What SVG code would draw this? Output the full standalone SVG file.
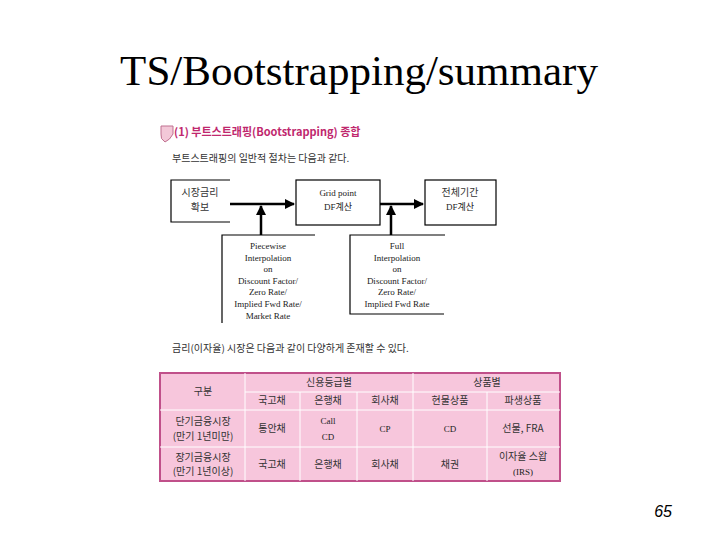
<svg xmlns="http://www.w3.org/2000/svg" width="720" height="540" viewBox="0 0 720 540">
<style>
.k{font-family:"Noto Sans CJK KR","Liberation Serif",serif;font-size:10px;fill:#333;text-anchor:middle}
.s{font-family:"Liberation Serif","Noto Sans CJK KR",serif;font-size:9px;fill:#222;text-anchor:middle}
.b{fill:#fff;stroke:#000;stroke-width:1.2}
.l{stroke:#000;stroke-width:1.2;fill:none}
.a{stroke:#000;stroke-width:2.5;fill:none}
.c{stroke:#fff;stroke-width:1}
</style>
<defs><marker id="m" viewBox="0 0 10 10" refX="9" refY="5" markerWidth="4" markerHeight="4" orient="auto"><path d="M0,0L10,5L0,10z"/></marker></defs>
<rect width="720" height="540" fill="#fff"/>
<text x="359" y="85" font-family="Liberation Serif,serif" font-size="43" text-anchor="middle">TS/Bootstrapping/summary</text>
<path d="M161,126h12v8q-3,6-8,8q-5-3-4-8z" fill="#f3c8d8" stroke="#c07090" stroke-width="1"/>
<text x="174" y="136" font-family="Noto Sans CJK KR,sans-serif" font-size="11" font-weight="bold" fill="#c0286e">(1) 부트스트래핑(Bootstrapping)  종합</text>
<text x="172" y="162" class="k" style="text-anchor:start">부트스트래핑의 일반적 절차는 다음과 같다.</text>
<g id="n1"><path class="l" d="M230,180H171V222H230"/><text x="200" y="196" class="k">시장금리</text><text x="200" y="211" class="k">확보</text></g>
<g id="n2"><rect class="b" x="296" y="180" width="84" height="45"/><text x="338" y="196" class="s">Grid point</text><text x="338" y="210" class="s">DF계산</text></g>
<g id="n3"><rect class="b" x="425" y="180" width="71" height="45"/><text x="460" y="196" class="k">전체기간</text><text x="460" y="210" class="s">DF계산</text></g>
<g id="n4"><path class="l" d="M315,235H222V323"/><text x="268" y="249" class="s">Piecewise</text><text x="268" y="261" class="s">Interpolation</text><text x="268" y="272" class="s">on</text><text x="268" y="284" class="s">Discount Factor/</text><text x="268" y="295" class="s">Zero Rate/</text><text x="268" y="307" class="s">Implied Fwd Rate/</text><text x="268" y="319" class="s">Market Rate</text></g>
<g id="n5"><path class="l" d="M445,235H350V314H444"/><text x="397" y="249" class="s">Full</text><text x="397" y="261" class="s">Interpolation</text><text x="397" y="272" class="s">on</text><text x="397" y="284" class="s">Discount Factor/</text><text x="397" y="295" class="s">Zero Rate/</text><text x="397" y="307" class="s">Implied Fwd Rate</text></g>
<g id="connectors">
<line class="a" x1="230" y1="204" x2="294" y2="204" marker-end="url(#m)"/>
<line class="a" x1="380" y1="204" x2="423" y2="204" marker-end="url(#m)"/>
<line class="a" x1="261" y1="235" x2="261" y2="206" marker-end="url(#m)"/>
<line class="a" x1="391" y1="235" x2="391" y2="206" marker-end="url(#m)"/>
</g>
<text x="172" y="352" class="k" style="text-anchor:start">금리(이자율) 시장은 다음과 같이 다양하게 존재할 수 있다.</text>
<g id="table">
<rect x="160" y="373" width="400" height="108" fill="#f7c6dc" stroke="#c0508a" stroke-width="2"/>
<g class="c"><line x1="245" y1="373" x2="245" y2="481"/><line x1="245" y1="392" x2="560" y2="392"/><line x1="160" y1="410" x2="560" y2="410"/><line x1="160" y1="447" x2="560" y2="447"/><line x1="300" y1="392" x2="300" y2="481"/><line x1="357" y1="392" x2="357" y2="481"/><line x1="413" y1="373" x2="413" y2="481"/><line x1="487" y1="392" x2="487" y2="481"/></g>
<text x="203" y="395" class="k">구분</text>
<text x="329" y="386" class="k">신용등급별</text><text x="487" y="386" class="k">상품별</text>
<text x="272" y="404" class="k">국고채</text><text x="328" y="404" class="k">은행채</text><text x="385" y="404" class="k">회사채</text><text x="450" y="404" class="k">현물상품</text><text x="523" y="404" class="k">파생상품</text>
<text x="203" y="425" class="k">단기금융시장</text><text x="203" y="440" class="k">(만기 1년미만)</text>
<text x="272" y="432" class="k">통안채</text><text x="328" y="424" class="s">Call</text><text x="328" y="440" class="s">CD</text><text x="385" y="432" class="s">CP</text><text x="450" y="432" class="s">CD</text><text x="523" y="432" class="k">선물, FRA</text>
<text x="203" y="461" class="k">장기금융시장</text><text x="203" y="475" class="k">(만기 1년이상)</text>
<text x="272" y="468" class="k">국고채</text><text x="328" y="468" class="k">은행채</text><text x="385" y="468" class="k">회사채</text><text x="450" y="468" class="k">채권</text><text x="523" y="460" class="k">이자율 스왑</text><text x="523" y="475" class="s">(IRS)</text>
</g>
<text x="672" y="517" font-family="Liberation Sans,sans-serif" font-size="16" font-style="italic" text-anchor="end">65</text>
</svg>
